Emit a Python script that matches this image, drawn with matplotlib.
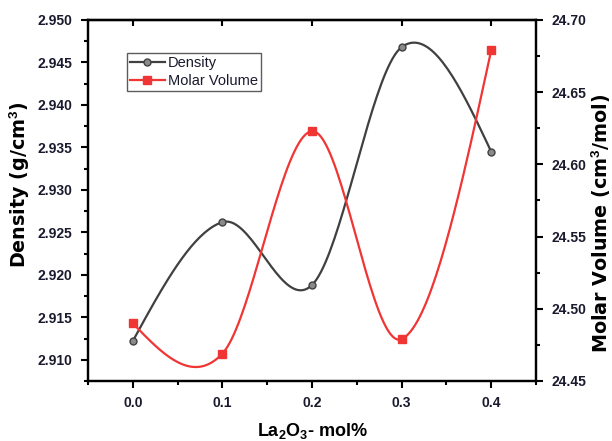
import numpy as np
import matplotlib
matplotlib.use("Agg")
import matplotlib.pyplot as plt
from matplotlib.ticker import MultipleLocator, FormatStrFormatter
from matplotlib.lines import Line2D

plt.rcParams['font.family'] = ['Liberation Sans', 'DejaVu Sans']
plt.rcParams['mathtext.fontset'] = 'custom'
plt.rcParams['mathtext.rm'] = 'Liberation Sans'
plt.rcParams['mathtext.bf'] = 'Liberation Sans:bold'
plt.rcParams['mathtext.default'] = 'bf'

x = [0.0, 0.1, 0.2, 0.3, 0.4]
density = [2.9122, 2.9262, 2.9188, 2.9468, 2.9345]
molar_volume = [24.490, 24.469, 24.623, 24.479, 24.679]


def smooth_curve(xs, ys, n=40):
    """Catmull-Rom style cubic Hermite through the points (natural ends)."""
    xs = np.asarray(xs, float)
    ys = np.asarray(ys, float)
    m = len(xs)
    h = np.diff(xs)
    slopes = np.zeros(m)
    for i in range(1, m - 1):
        slopes[i] = (ys[i + 1] - ys[i - 1]) / (xs[i + 1] - xs[i - 1])
    slopes[0] = (3 * (ys[1] - ys[0]) / h[0] - slopes[1]) / 2
    slopes[-1] = (3 * (ys[-1] - ys[-2]) / h[-1] - slopes[-2]) / 2
    px, py = [], []
    for i in range(m - 1):
        t = np.linspace(0, 1, n, endpoint=(i == m - 2))
        h00 = 2 * t**3 - 3 * t**2 + 1
        h10 = t**3 - 2 * t**2 + t
        h01 = -2 * t**3 + 3 * t**2
        h11 = t**3 - t**2
        px.append(xs[i] + t * h[i])
        py.append(h00 * ys[i] + h10 * h[i] * slopes[i] + h01 * ys[i + 1] + h11 * h[i] * slopes[i + 1])
    return np.concatenate(px), np.concatenate(py)


fig = plt.figure(figsize=(6.12, 4.41), dpi=100)
ax = fig.add_axes([88 / 612, 1 - 381 / 441, 448 / 612, 361 / 441])
ax2 = ax.twinx()

gray = '#404040'
red = '#f03535'

dx, dy = smooth_curve(x, density)
ax.plot(dx, dy, color=gray, lw=1.6, zorder=3)
ax.plot(x, density, ls='none', marker='o', ms=5, mfc='#8a8a8a', mec=gray, mew=1, zorder=4)

mx, my = smooth_curve(x, molar_volume)
ax2.plot(mx, my, color=red, lw=1.6, zorder=3)
ax2.plot(x, molar_volume, ls='none', marker='s', ms=5.5, mfc=red, mec=red, zorder=4)

ax.set_xlim(-0.05, 0.45)
ax.set_ylim(2.9075, 2.950)
ax2.set_ylim(24.45, 24.70)

ax.xaxis.set_major_locator(MultipleLocator(0.1))
ax.xaxis.set_minor_locator(MultipleLocator(0.05))
ax.xaxis.set_major_formatter(FormatStrFormatter('%.1f'))
ax.yaxis.set_major_locator(MultipleLocator(0.005))
ax.yaxis.set_minor_locator(MultipleLocator(0.0025))
ax.yaxis.set_major_formatter(FormatStrFormatter('%.3f'))
ax2.yaxis.set_major_locator(MultipleLocator(0.05))
ax2.yaxis.set_minor_locator(MultipleLocator(0.025))
ax2.yaxis.set_major_formatter(FormatStrFormatter('%.2f'))

for a in (ax, ax2):
    for s in a.spines.values():
        s.set_linewidth(1.6)
        s.set_color('black')
    a.tick_params(which='major', length=5, width=1.5, direction='out', labelsize=10)
    a.tick_params(which='minor', length=3, width=1.5, direction='out')
    for lab in a.get_xticklabels() + a.get_yticklabels():
        lab.set_fontweight('bold')
        lab.set_color('#1a1a2e')

ax.tick_params(axis='x', pad=6)
ax.tick_params(axis='y', pad=6)
ax2.tick_params(axis='y', pad=6)

sec = ax.secondary_xaxis('top')
sec.set_xticks(x)
sec.tick_params(direction='in', length=4, width=1.5, labeltop=False)
sec.spines['top'].set_linewidth(1.6)

ax.set_xlabel('La$_2$O$_3$- mol%', fontsize=13, fontweight='bold')
ax.xaxis.set_label_coords(0.5, (381 - 431) / 361)
ax.xaxis.label.set_va('center')

ylab_font = ['DejaVu Sans']
ax.set_ylabel('Density (g/cm$^3$)', fontsize=13.8, fontweight='bold', family=ylab_font)
ax2.set_ylabel('Molar Volume (cm$^3$/mol)', fontsize=13.8, fontweight='bold', family=ylab_font)
for lab in (ax.yaxis.label, ax2.yaxis.label):
    lab.set_va('center')
    lab.set_ha('center')
    lab.set_rotation_mode('anchor')
ax.yaxis.set_label_coords((20 - 88) / 448, (381 - 185) / 361)
ax2.yaxis.set_label_coords((601 - 88) / 448, (381 - 223) / 361)

h1 = Line2D([], [], color=gray, lw=1.6, marker='o', ms=5, mfc='#8a8a8a', mec=gray)
h2 = Line2D([], [], color=red, lw=1.6, marker='s', ms=5.5, mfc=red, mec=red)
leg = ax.legend([h1, h2], ['Density', 'Molar Volume'], loc='upper left',
                bbox_to_anchor=((127 - 88) / 448, (381 - 53) / 361),
                fontsize=10.5, frameon=True, fancybox=False, edgecolor='#333333',
                handlelength=2.4, handletextpad=0.2, borderpad=0.2, labelspacing=0.3,
                borderaxespad=0)
leg.get_frame().set_linewidth(1.0)
for t in leg.get_texts():
    t.set_color('#1a1a2e')
leg.set_zorder(10)

fig.savefig('out.png', dpi=100)
